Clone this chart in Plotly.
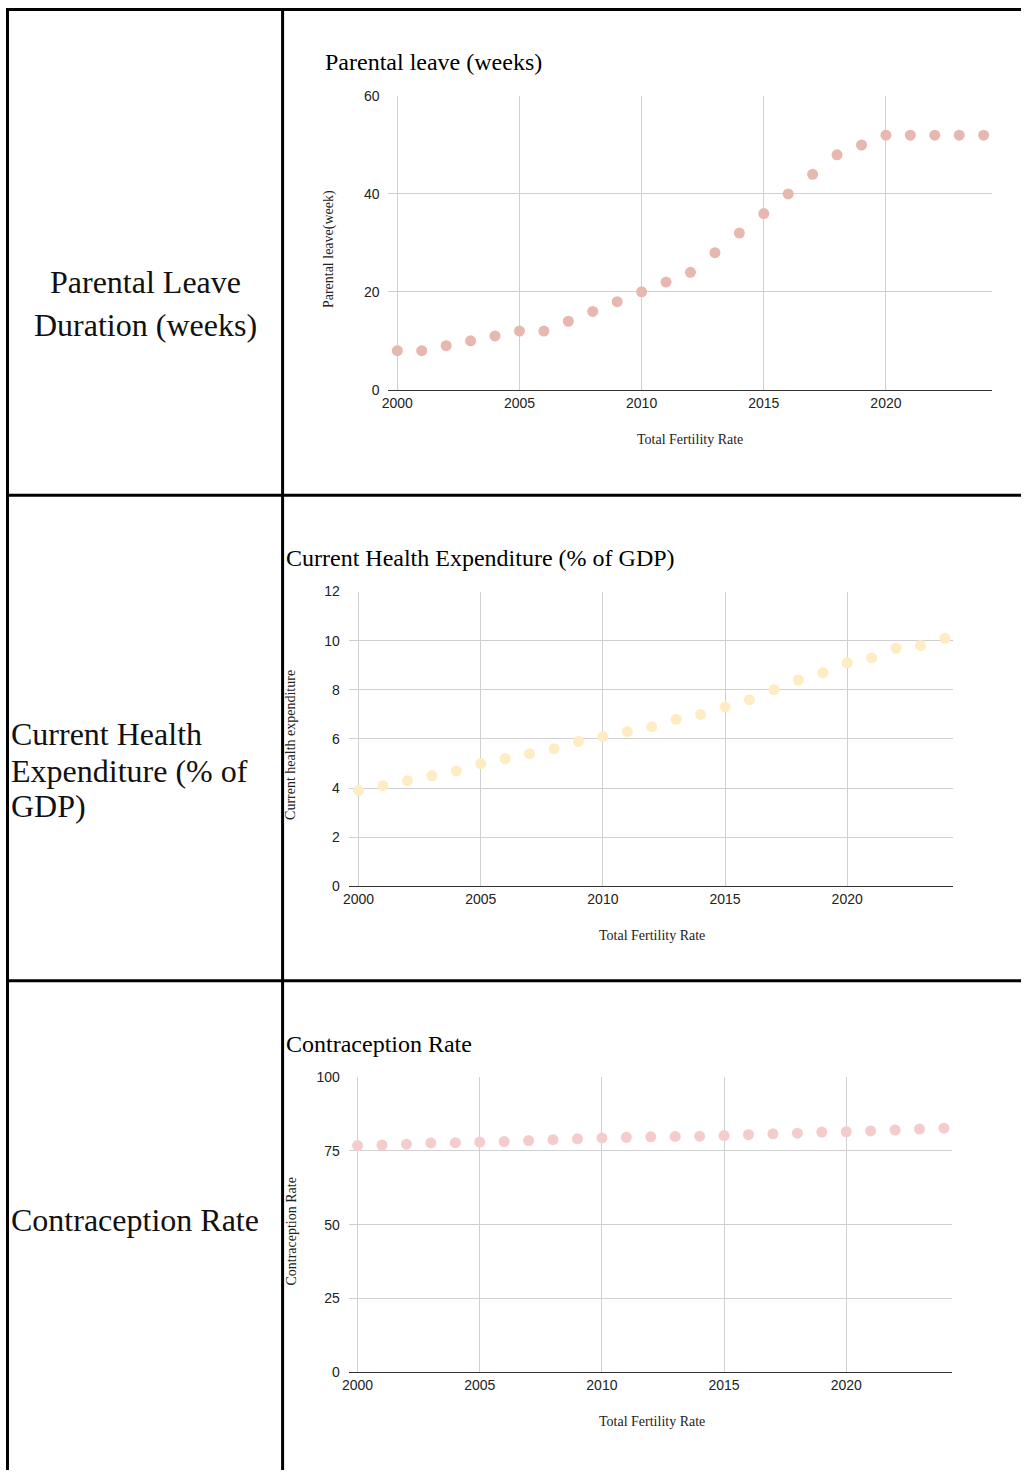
import plotly.graph_objects as go

# page is 1029x1478; the browser body keeps its default 8px margin, so the figure
# starts at page (8, 8) and coordinates below are given in page pixels
PAGE_W, PAGE_H = 1029, 1478
OFF = 8
FW, FH = PAGE_W - OFF, PAGE_H - OFF

years = list(range(2000, 2025))
parental_leave = [8, 8, 9, 10, 11, 12, 12, 14, 16, 18, 20, 22, 24, 28, 32, 36, 40, 44, 48, 50, 52, 52, 52, 52, 52]
health_exp = [3.9, 4.1, 4.3, 4.5, 4.7, 5.0, 5.2, 5.4, 5.6, 5.9, 6.1, 6.3, 6.5, 6.8, 7.0, 7.3, 7.6, 8.0, 8.4, 8.7, 9.1, 9.3, 9.7, 9.8, 10.1]
contraception = [76.8, 77.0, 77.3, 77.7, 77.8, 78.0, 78.2, 78.5, 78.8, 79.1, 79.4, 79.6, 79.8, 79.9, 80.0, 80.2, 80.5, 80.8, 81.0, 81.4, 81.5, 81.8, 82.1, 82.4, 82.7]

x_ticks = [2000, 2005, 2010, 2015, 2020]
chart_titles = ["Parental leave (weeks)", "Current Health Expenditure (% of GDP)", "Contraception Rate"]
y_titles = ["Parental leave(week)", "Current health expenditure", "Contraception Rate"]
x_title = "Total Fertility Rate"
colors = ["#E6B8AF", "#FFECC2", "#F4CCCC"]
y_ranges = [[0, 60], [0, 12], [0, 100]]
y_dticks = [20, 2, 25]

# pixel layout per chart (page pixels): left edge, x of 2000, right edge, top(ymax), bottom(0)
layouts = [
    dict(left=392, x0=401, right=1000, top=97, bottom=394, title=(326, 63), ytitle=(333, 252), xtitle=(696, 444)),
    dict(left=352, x0=362, right=961, top=598, bottom=896, title=(287, 564), ytitle=(294, 753), xtitle=(657, 946)),
    dict(left=352, x0=361, right=960, top=1089, bottom=1387, title=(287, 1055), ytitle=(294, 1245), xtitle=(657, 1437)),
]
PX_PER_YEAR = 24.6

series = [parental_leave, health_exp, contraception]

fig = go.Figure()
annotations = []
shapes = []

def px(x):
    return (x - OFF) / FW

def py(y):
    return 1 - (y - OFF) / FH

for i, (vals, lay) in enumerate(zip(series, layouts)):
    n = "" if i == 0 else str(i + 1)
    xa = "x" + n
    ya = "y" + n
    fig.add_trace(go.Scatter(x=years, y=vals, mode="markers",
                             marker=dict(color=colors[i], size=11, line=dict(width=0)),
                             xaxis=xa, yaxis=ya, showlegend=False, cliponaxis=False))
    xr = [2000 - (lay["x0"] - lay["left"]) / PX_PER_YEAR, 2000 + (lay["right"] - lay["x0"]) / PX_PER_YEAR]
    fig.update_layout(**{
        "xaxis" + n: dict(domain=[px(lay["left"]), px(lay["right"])], range=xr, anchor=ya,
                          tickvals=x_ticks, showgrid=True, gridcolor="#D0D0D0", gridwidth=1,
                          zeroline=False, showline=True, linecolor="#333333", linewidth=1,
                          ticks="", ticklen=0,
                          tickfont=dict(family="Liberation Sans, Arial", size=14, color="#222222")),
        "yaxis" + n: dict(domain=[py(lay["bottom"]), py(lay["top"])], range=y_ranges[i], anchor=xa,
                          dtick=y_dticks[i], showgrid=True, gridcolor="#D0D0D0", gridwidth=1,
                          zeroline=False, showline=False,
                          ticks="outside", ticklen=5, tickcolor="rgba(0,0,0,0)",
                          tickfont=dict(family="Liberation Sans, Arial", size=14, color="#222222")),
    })
    annotations.append(dict(x=px(lay["title"][0]), y=py(lay["title"][1]), xref="paper", yref="paper",
                            text=chart_titles[i], showarrow=False, xanchor="left", yanchor="middle",
                            font=dict(family="Liberation Serif, Times New Roman", size=24, color="#000000")))
    annotations.append(dict(x=px(lay["ytitle"][0]), y=py(lay["ytitle"][1]), xref="paper", yref="paper",
                            text=y_titles[i], showarrow=False, xanchor="center", yanchor="middle", textangle=-90,
                            font=dict(family="Liberation Serif, Times New Roman", size=14, color="#222222")))
    annotations.append(dict(x=px(lay["xtitle"][0]), y=py(lay["xtitle"][1]), xref="paper", yref="paper",
                            text=x_title, showarrow=False, xanchor="center", yanchor="middle",
                            font=dict(family="Liberation Serif, Times New Roman", size=14, color="#222222")))

# left column labels
left_labels = [
    (["Parental Leave", "Duration (weeks)"], [285, 328], "center", 147),
    (["Current Health", "Expenditure (% of", "GDP)"], [742, 779, 815], "left", 10),
    (["Contraception Rate"], [1233], "left", 10),
]
for lines, ys, anchor, x in left_labels:
    for line, y in zip(lines, ys):
        annotations.append(dict(x=px(x), y=py(y), xref="paper", yref="paper", text=line, showarrow=False,
                                xanchor=anchor, yanchor="middle",
                                font=dict(family="Liberation Serif, Times New Roman", size=32, color="#111111")))

# table borders (page pixels)
bw = 3
for x in [8.5, 285.5]:
    shapes.append(dict(type="line", xref="paper", yref="paper", x0=px(x), x1=px(x), y0=py(8), y1=py(PAGE_H + 20),
                       line=dict(color="black", width=bw)))
for y in [9.5, 500.5, 991.5]:
    shapes.append(dict(type="line", xref="paper", yref="paper", x0=px(7), x1=px(PAGE_W + 20), y0=py(y), y1=py(y),
                       line=dict(color="black", width=bw)))

fig.update_layout(width=FW, height=FH, margin=dict(l=0, r=0, t=0, b=0),
                  paper_bgcolor="white", plot_bgcolor="white",
                  annotations=annotations, shapes=shapes)

fig.write_html("out.html")
